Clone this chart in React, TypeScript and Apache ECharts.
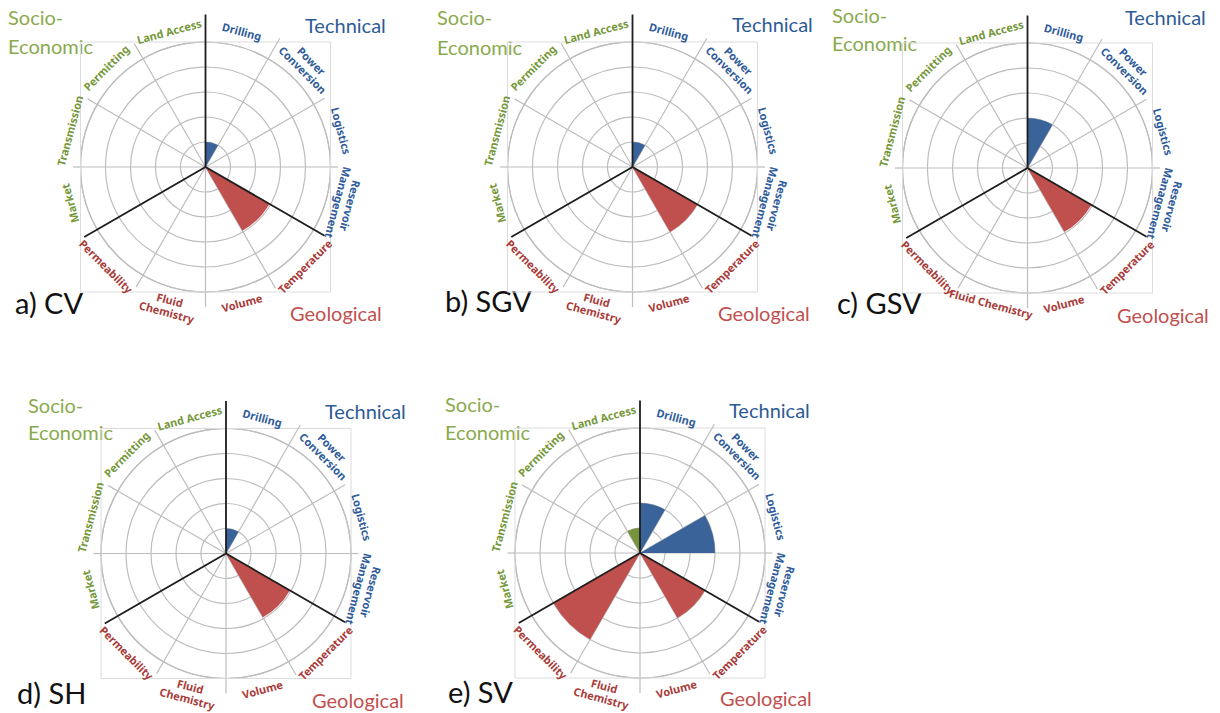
import React, { useEffect, useRef } from "react";
import * as echarts from "echarts";

// ---------- data ----------
const CATEGORIES = [
  "Drilling",
  "Power Conversion",
  "Logistics",
  "Reservoir Management",
  "Temperature",
  "Volume",
  "Fluid Chemistry",
  "Permeability",
  "Market",
  "Transmission",
  "Permitting",
  "Land Access",
];
// group of each category: 0 Technical, 1 Geological, 2 Socio-Economic
const CATEGORY_GROUP = [0, 0, 0, 0, 1, 1, 1, 1, 2, 2, 2, 2];
const GROUP_NAMES = ["Technical", "Geological", "Socio-Economic"];

const PANEL_LABELS = ["a) CV", "b) SGV", "c) GSV", "d) SH", "e) SV"];

const VALUES_CV = [1, 0, 0, 0, 2.95, 0, 0, 0, 0, 0, 0, 0];
const VALUES_SGV = [1, 0, 0, 0, 3, 0, 0, 0, 0, 0, 0, 0];
const VALUES_GSV = [2, 0, 0, 0, 2.95, 0, 0, 0, 0, 0, 0, 0];
const VALUES_SH = [1, 0, 0, 0, 2.95, 0, 0, 0, 0, 0, 0, 0];
const VALUES_SV = [2, 0, 3, 0, 3, 0, 0, 4, 0, 0, 0, 1];
const PANEL_VALUES = [VALUES_CV, VALUES_SGV, VALUES_GSV, VALUES_SH, VALUES_SV];

const RADIUS_MIN = 0;
const RADIUS_MAX = 5;
const RADIUS_INTERVAL = 1;

// ---------- layout / style ----------
const CENTERS = [
  [205.5, 167],
  [632.5, 167],
  [1027.5, 168],
  [226, 553.5],
  [640, 553],
];
const RADIUS_PX = 125;
const LABEL_BREAKS_DEFAULT: Record<string, string> = {
  "Power Conversion": "Power\nConversion",
  "Reservoir Management": "Reservoir\nManagement",
  "Fluid Chemistry": "Fluid\nChemistry",
};
const LABEL_BREAKS_C: Record<string, string> = {
  "Power Conversion": "Power\nConversion",
  "Reservoir Management": "Reservoir\nManagement",
};
const PANEL_BREAKS = [
  LABEL_BREAKS_DEFAULT,
  LABEL_BREAKS_DEFAULT,
  LABEL_BREAKS_C,
  LABEL_BREAKS_DEFAULT,
  LABEL_BREAKS_DEFAULT,
];
// extension (relative to outer radius) of the radial line at the boundary before category i
const LINE_EXT = [1.22, 1.19, 1.1, 1.06, 1.1, 1.12, 1.12, 1.11, 1.12, 1.06, 1.09, 1.14];
const GROUP_START = [0, 4, 8];

const FILL_COLORS = ["#3A6399", "#C0504D", "#77933C"];
const LABEL_COLORS = ["#2F5C9A", "#A93B39", "#76983A"];
const TITLE_COLORS = ["#2E5B96", "#C0504D", "#8AAA4E"];
const GRID_COLOR = "#BDBDBD";
const FRAME_COLOR = "#DCDCDC";
const FONT = "Lato, 'Open Sans', sans-serif";
const LABEL_FONT = "'Noto Sans', 'Open Sans', sans-serif";

// [socio x, socio y, economic y, technical x, technical y, geological x, geological y, panel x, panel y]
const TITLE_POS = [
  [8, 17, 46, 305, 24.5, 290, 313, 15, 302],
  [437, 17, 47, 732, 24, 718, 313, 445, 300],
  [832, 15, 43, 1125, 17, 1117, 315, 837, 302],
  [28, 405, 432, 325, 411, 312, 700, 17, 692],
  [445, 404, 432, 729, 410, 720, 698, 448, 691],
];

function makeRenderItem(panel: number) {
  const breaks = PANEL_BREAKS[panel];
  return (params: any, api: any) => {
    const n = CATEGORIES.length;
    const i = params.dataIndex;
    const cs = params.coordSys;
    const cx = cs.cx;
    const cy = cs.cy;
    const pCur = api.coord([RADIUS_MAX, i]);
    const pPrev = api.coord([RADIUS_MAX, (i - 1 + n) % n]);
    const R = Math.hypot(pCur[0] - cx, pCur[1] - cy);
    let vx = pCur[0] - cx + (pPrev[0] - cx);
    let vy = pCur[1] - cy + (pPrev[1] - cy);
    const len = Math.hypot(vx, vy);
    vx /= len;
    vy /= len;
    const thick = GROUP_START.indexOf(i) >= 0;
    const ext = LINE_EXT[i];
    const children: any[] = [];

    if (i === 0) {
      children.push({
        type: "rect",
        shape: { x: cx - R, y: cy - R, width: 2 * R, height: 2 * R },
        style: { fill: "none", stroke: FRAME_COLOR, lineWidth: 1 },
        z2: 0,
      });
    }

    children.push({
      type: "line",
      shape: {
        x1: cx + vx * (thick ? 0 : R),
        y1: cy + vy * (thick ? 0 : R),
        x2: cx + vx * R * ext,
        y2: cy + vy * R * ext,
      },
      style: {
        stroke: thick ? "#1E1E1E" : GRID_COLOR,
        lineWidth: thick ? 1.8 : 1.2,
      },
      z2: thick ? 10 : 1,
    });

    const name = CATEGORIES[i];
    const text = breaks[name] || name;
    const twoLines = text.indexOf("\n") >= 0;
    const lp = api.coord([twoLines ? 5.75 : 5.62, i]);
    const dx = lp[0] - cx;
    const dy = lp[1] - cy;
    let phi = (Math.atan2(dx, -dy) * 180) / Math.PI;
    if (phi < 0) phi += 360;
    const flip = phi > 120 && phi < 240;
    const rot = flip ? phi - 180 : phi;
    children.push({
      type: "text",
      x: lp[0],
      y: lp[1],
      rotation: (-rot * Math.PI) / 180,
      style: {
        text,
        x: 0,
        y: 0,
        align: "center",
        verticalAlign: "middle",
        fill: LABEL_COLORS[CATEGORY_GROUP[i]],
        fontFamily: LABEL_FONT,
        fontWeight: "bold",
        fontSize: 11,
        lineHeight: 12.5,
      },
      z2: 5,
    });
    return { type: "group", children };
  };
}

function buildOption() {
  const polar: any[] = [];
  const angleAxis: any[] = [];
  const radiusAxis: any[] = [];
  const series: any[] = [];
  const graphic: any[] = [];

  PANEL_VALUES.forEach((vals, p) => {
    polar.push({ center: CENTERS[p], radius: RADIUS_PX });
    angleAxis.push({
      type: "category",
      polarIndex: p,
      data: CATEGORIES,
      startAngle: 90,
      clockwise: true,
      boundaryGap: true,
      axisLine: { show: true, lineStyle: { color: GRID_COLOR, width: 1.2 } },
      axisTick: { show: false },
      axisLabel: { show: false },
      splitLine: { show: true, lineStyle: { color: GRID_COLOR, width: 1.2 } },
      z: 0,
    });
    radiusAxis.push({
      type: "value",
      polarIndex: p,
      min: RADIUS_MIN,
      max: RADIUS_MAX,
      interval: RADIUS_INTERVAL,
      axisLine: { show: false },
      axisTick: { show: false },
      axisLabel: { show: false },
      splitLine: { show: true, lineStyle: { color: GRID_COLOR, width: 1.2 } },
      z: 0,
    });
    series.push({
      type: "bar",
      coordinateSystem: "polar",
      polarIndex: p,
      data: vals.map((v, i) => ({
        value: v,
        itemStyle: { color: FILL_COLORS[CATEGORY_GROUP[i]] },
      })),
      barCategoryGap: "0%",
      barGap: "0%",
      z: 2,
    });
    series.push({
      type: "custom",
      coordinateSystem: "polar",
      polarIndex: p,
      data: CATEGORIES.map((_, i) => [0, i]),
      renderItem: makeRenderItem(p),
      clip: false,
      silent: true,
      z: 3,
    });

    const tp = TITLE_POS[p];
    const titleFont = { fontFamily: FONT, fontSize: 20 };
    graphic.push(
      {
        type: "text",
        x: tp[0],
        y: tp[1],
        style: { text: "Socio-", fill: TITLE_COLORS[2], verticalAlign: "middle", ...titleFont },
      },
      {
        type: "text",
        x: tp[0],
        y: tp[2],
        style: { text: "Economic", fill: TITLE_COLORS[2], verticalAlign: "middle", ...titleFont },
      },
      {
        type: "text",
        x: tp[3],
        y: tp[4],
        style: { text: GROUP_NAMES[0], fill: TITLE_COLORS[0], verticalAlign: "middle", ...titleFont },
      },
      {
        type: "text",
        x: tp[5],
        y: tp[6],
        style: { text: GROUP_NAMES[1], fill: TITLE_COLORS[1], verticalAlign: "middle", ...titleFont },
      },
      {
        type: "text",
        x: tp[7],
        y: tp[8],
        style: {
          text: PANEL_LABELS[p],
          fill: "#111111",
          verticalAlign: "middle",
          fontFamily: FONT,
          fontSize: 29,
        },
      }
    );
  });

  return {
    animation: false,
    backgroundColor: "#ffffff",
    polar,
    angleAxis,
    radiusAxis,
    series,
    graphic,
  };
}

export default function App() {
  const ref = useRef<HTMLDivElement>(null);
  useEffect(() => {
    if (!ref.current) return;
    const chart = echarts.init(ref.current, undefined, { renderer: "svg" });
    chart.setOption(buildOption() as any);
    return () => chart.dispose();
  }, []);
  return (
    <div
      ref={ref}
      style={{ position: "fixed", left: 0, top: 0, width: 1220, height: 713, background: "#fff" }}
    />
  );
}
